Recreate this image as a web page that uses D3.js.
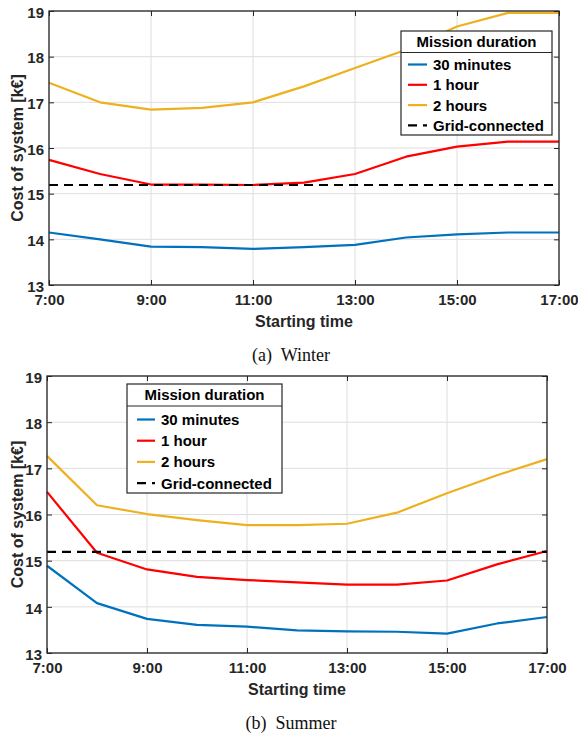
<!DOCTYPE html>
<html><head><meta charset="utf-8">
<script src="https://cdn.jsdelivr.net/npm/d3@7"></script>
<style>body{margin:0;background:#fff}svg{display:block}</style>
</head><body>
<script>
// ---- data ----
const hours = [7,8,9,10,11,12,13,14,15,16,17];
const xTickHours = [7,9,11,13,15,17];
const xTickLabels = ["7:00","9:00","11:00","13:00","15:00","17:00"];
const yTicks = [13,14,15,16,17,18,19];
const seriesNames = ["30 minutes","1 hour","2 hours","Grid-connected"];
const seriesColors = ["#0072BD","#FF0000","#EDB120","#000000"];

const winter30 = [14.15,14.00,13.84,13.83,13.79,13.83,13.88,14.04,14.11,14.15,14.15];
const winter1h = [15.74,15.43,15.20,15.20,15.19,15.24,15.43,15.81,16.03,16.14,16.14];
const winter2h = [17.43,17.00,16.84,16.88,17.00,17.35,17.75,18.15,18.66,18.96,18.96];
const winterGrid = 15.19;

const summer30 = [14.89,14.08,13.74,13.61,13.57,13.49,13.47,13.46,13.42,13.64,13.78];
const summer1h = [16.49,15.17,14.81,14.65,14.58,14.53,14.48,14.48,14.57,14.92,15.21];
const summer2h = [17.27,16.20,16.01,15.88,15.77,15.77,15.80,16.04,16.46,16.85,17.20];
const summerGrid = 15.19;

const W = 578, H = 736;
const svg = d3.select("body").append("svg").attr("width", W).attr("height", H);

function panel(cfg){
  const {left,right,top,bottom,series,grid,legend,caption,capY,xlabY} = cfg;
  const x = d3.scaleLinear().domain([7,17]).range([left,right]);
  const y = d3.scaleLinear().domain([13,19]).range([bottom,top]);
  const g = svg.append("g");
  // grid
  g.selectAll(".gx").data(xTickHours).enter().append("line")
    .attr("x1",d=>x(d)).attr("x2",d=>x(d)).attr("y1",top).attr("y2",bottom)
    .attr("stroke","#dedede").attr("stroke-width",1);
  g.selectAll(".gy").data(yTicks).enter().append("line")
    .attr("y1",d=>y(d)).attr("y2",d=>y(d)).attr("x1",left).attr("x2",right)
    .attr("stroke","#dedede").attr("stroke-width",1);
  // lines
  const line = d3.line().x((d,i)=>x(hours[i])).y(d=>y(d));
  series.forEach((s,i)=>{
    g.append("path").datum(s).attr("d",line).attr("fill","none")
      .attr("stroke",seriesColors[i]).attr("stroke-width",2.2).attr("stroke-linejoin","round");
  });
  g.append("line").attr("x1",x(7)).attr("x2",x(17)).attr("y1",y(grid)).attr("y2",y(grid))
    .attr("stroke","#000").attr("stroke-width",2.2).attr("stroke-dasharray","9,6");
  // axes (box with inward ticks)
  const axColor = "#262626";
  const bx = d3.axisBottom(x).tickValues(xTickHours).tickFormat((d,i)=>xTickLabels[i]).tickSizeInner(-5).tickSizeOuter(0).tickPadding(8);
  const tx = d3.axisTop(x).tickValues(xTickHours).tickFormat("").tickSizeInner(-5).tickSizeOuter(0);
  const ly = d3.axisLeft(y).tickValues(yTicks).tickFormat(d3.format("d")).tickSizeInner(-5).tickSizeOuter(0).tickPadding(5);
  const ry = d3.axisRight(y).tickValues(yTicks).tickFormat("").tickSizeInner(-5).tickSizeOuter(0);
  const ga = g.append("g").attr("transform",`translate(0,${bottom})`).call(bx);
  g.append("g").attr("transform",`translate(0,${top})`).call(tx);
  const gl = g.append("g").attr("transform",`translate(${left},0)`).call(ly);
  g.append("g").attr("transform",`translate(${right},0)`).call(ry);
  g.selectAll(".domain").remove();
  g.selectAll(".tick line").attr("stroke",axColor).attr("stroke-width",1);
  g.append("rect").attr("x",left).attr("y",top).attr("width",right-left).attr("height",bottom-top)
    .attr("fill","none").attr("stroke",axColor).attr("stroke-width",1.3);
  g.selectAll(".tick text").attr("font-family","Liberation Sans, Arial, sans-serif")
    .attr("font-weight","bold").attr("font-size",15).attr("fill",axColor);
  ga.selectAll(".tick text").attr("dy","0.8em");
  gl.selectAll(".tick text").attr("dy","0.42em");
  // axis labels
  g.append("text").attr("x",(left+right)/2).attr("y",xlabY).attr("text-anchor","middle")
    .attr("font-family","Liberation Sans, Arial, sans-serif").attr("font-weight","bold")
    .attr("font-size",16).attr("fill",axColor).text("Starting time");
  g.append("text").attr("transform",`translate(23,${(top+bottom)/2}) rotate(-90)`).attr("text-anchor","middle")
    .attr("font-family","Liberation Sans, Arial, sans-serif").attr("font-weight","bold")
    .attr("font-size",16).attr("fill",axColor).text("Cost of system [k€]");
  g.append("text").attr("x",291).attr("y",capY).attr("text-anchor","middle")
    .attr("font-family","Liberation Serif, Times New Roman, serif")
    .attr("font-size",18).attr("fill","#111").attr("xml:space","preserve").style("white-space","pre").text(caption);
  // legend
  const L = legend;
  const lg = g.append("g");
  lg.append("rect").attr("x",L.x).attr("y",L.y).attr("width",L.w).attr("height",L.h)
    .attr("fill","#fff").attr("stroke",axColor).attr("stroke-width",1.2);
  lg.append("line").attr("x1",L.x).attr("x2",L.x+L.w).attr("y1",L.sep).attr("y2",L.sep)
    .attr("stroke",axColor).attr("stroke-width",1.2);
  lg.append("text").attr("x",L.x+L.w/2).attr("y",(L.y+L.sep)/2).attr("dy","0.36em").attr("text-anchor","middle")
    .attr("font-family","Liberation Sans, Arial, sans-serif").attr("font-weight","bold")
    .attr("font-size",15).attr("fill","#000").text("Mission duration");
  seriesNames.forEach((n,i)=>{
    const yy = L.row0 + i*L.dy;
    lg.append("line").attr("x1",L.lx1).attr("x2",L.lx2).attr("y1",yy).attr("y2",yy)
      .attr("stroke",seriesColors[i]).attr("stroke-width",2.2)
      .attr("stroke-dasharray", i===3 ? "9,6" : null);
    lg.append("text").attr("x",L.tx).attr("y",yy).attr("dy","0.36em")
      .attr("font-family","Liberation Sans, Arial, sans-serif").attr("font-weight","bold")
      .attr("font-size",15).attr("fill","#000").text(n);
  });
}

panel({left:49,right:559,top:11,bottom:285,
  series:[winter30,winter1h,winter2h],grid:winterGrid,
  legend:{x:401,y:31,w:151,h:104,sep:52.5,row0:64.5,dy:20.3,lx1:408,lx2:427,tx:433},
  caption:"(a)  Winter",capY:361,xlabY:327});

panel({left:47,right:547,top:376,bottom:653,
  series:[summer30,summer1h,summer2h],grid:summerGrid,
  legend:{x:127,y:384,w:155,h:109,sep:406,row0:419.5,dy:21.2,lx1:137,lx2:155,tx:161},
  caption:"(b)  Summer",capY:729,xlabY:695});
</script>
</body></html>
